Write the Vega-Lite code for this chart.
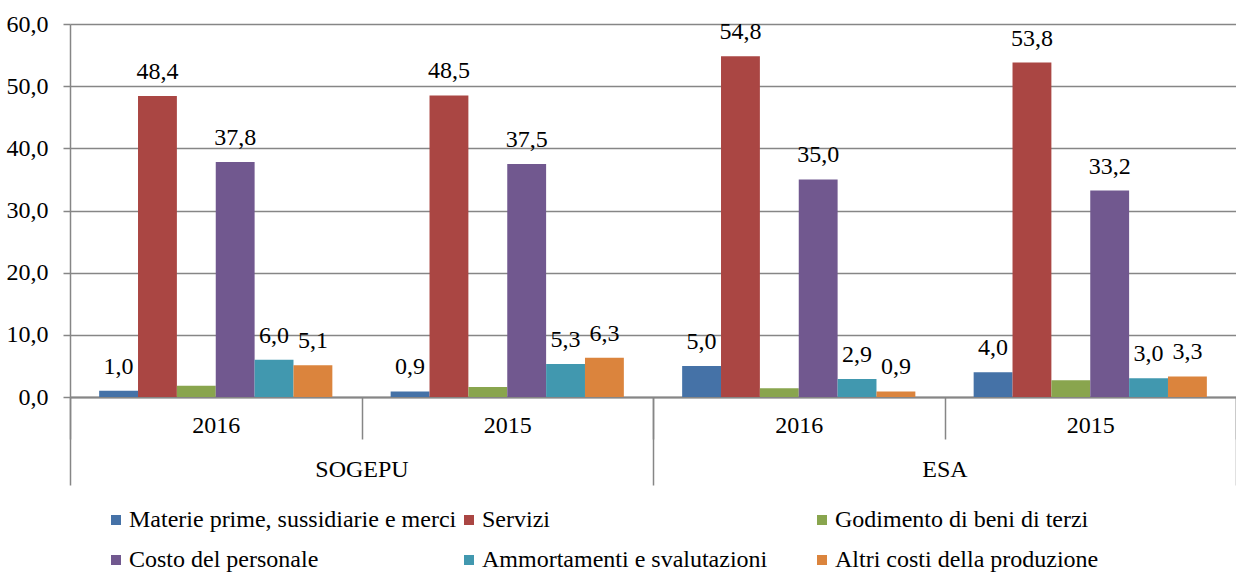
{
  "$schema": "https://vega.github.io/schema/vega-lite/v6.json",
  "width": 1166,
  "height": 373,
  "autosize": {"type": "none"},
  "padding": {"left": 70, "top": 24, "right": 0, "bottom": 175},
  "config": {
    "locale": {"number": {"decimal": ",", "thousands": ".", "grouping": [3], "currency": ["", " €"]}},
    "view": {"stroke": null},
    "font": "Liberation Serif"
  },
  "data": {
    "values": [
      {"company": "SOGEPU", "grp": "SOGEPU 2016", "serie": "Materie prime, sussidiarie e merci", "v": 1.0},
      {"company": "SOGEPU", "grp": "SOGEPU 2016", "serie": "Servizi", "v": 48.4},
      {"company": "SOGEPU", "grp": "SOGEPU 2016", "serie": "Godimento di beni di terzi", "v": 1.8},
      {"company": "SOGEPU", "grp": "SOGEPU 2016", "serie": "Costo del personale", "v": 37.8},
      {"company": "SOGEPU", "grp": "SOGEPU 2016", "serie": "Ammortamenti e svalutazioni", "v": 6.0},
      {"company": "SOGEPU", "grp": "SOGEPU 2016", "serie": "Altri costi della produzione", "v": 5.1},
      {"company": "SOGEPU", "grp": "SOGEPU 2015", "serie": "Materie prime, sussidiarie e merci", "v": 0.9},
      {"company": "SOGEPU", "grp": "SOGEPU 2015", "serie": "Servizi", "v": 48.5},
      {"company": "SOGEPU", "grp": "SOGEPU 2015", "serie": "Godimento di beni di terzi", "v": 1.6},
      {"company": "SOGEPU", "grp": "SOGEPU 2015", "serie": "Costo del personale", "v": 37.5},
      {"company": "SOGEPU", "grp": "SOGEPU 2015", "serie": "Ammortamenti e svalutazioni", "v": 5.3},
      {"company": "SOGEPU", "grp": "SOGEPU 2015", "serie": "Altri costi della produzione", "v": 6.3},
      {"company": "ESA", "grp": "ESA 2016", "serie": "Materie prime, sussidiarie e merci", "v": 5.0},
      {"company": "ESA", "grp": "ESA 2016", "serie": "Servizi", "v": 54.8},
      {"company": "ESA", "grp": "ESA 2016", "serie": "Godimento di beni di terzi", "v": 1.4},
      {"company": "ESA", "grp": "ESA 2016", "serie": "Costo del personale", "v": 35.0},
      {"company": "ESA", "grp": "ESA 2016", "serie": "Ammortamenti e svalutazioni", "v": 2.9},
      {"company": "ESA", "grp": "ESA 2016", "serie": "Altri costi della produzione", "v": 0.9},
      {"company": "ESA", "grp": "ESA 2015", "serie": "Materie prime, sussidiarie e merci", "v": 4.0},
      {"company": "ESA", "grp": "ESA 2015", "serie": "Servizi", "v": 53.8},
      {"company": "ESA", "grp": "ESA 2015", "serie": "Godimento di beni di terzi", "v": 2.7},
      {"company": "ESA", "grp": "ESA 2015", "serie": "Costo del personale", "v": 33.2},
      {"company": "ESA", "grp": "ESA 2015", "serie": "Ammortamenti e svalutazioni", "v": 3.0},
      {"company": "ESA", "grp": "ESA 2015", "serie": "Altri costi della produzione", "v": 3.3}
    ]
  },
  "layer": [
    {
      "layer": [
        {
          "mark": {"type": "bar"},
          "encoding": {
            "x": {
              "field": "grp", "type": "nominal",
              "scale": {"domain": ["SOGEPU 2016", "SOGEPU 2015", "ESA 2016", "ESA 2015"], "paddingInner": 0, "paddingOuter": 0},
              "axis": {
                "title": null, "labelExpr": "split(datum.label, ' ')[1]", "tickBand": "extent",
                "tickSize": 42, "tickColor": "#868686", "tickWidth": 1.5,
                "domainColor": "#868686", "domainWidth": 2,
                "labelFontSize": 24, "labelFont": "Liberation Serif", "labelColor": "#000",
                "labelPadding": -7, "labelBaseline": "alphabetic", "labelAngle": 0, "grid": false
              }
            },
            "xOffset": {
              "field": "serie",
              "scale": {"domain": ["Materie prime, sussidiarie e merci", "Servizi", "Godimento di beni di terzi", "Costo del personale", "Ammortamenti e svalutazioni", "Altri costi della produzione"], "paddingInner": 0, "paddingOuter": 0.75}
            },
            "y": {
              "field": "v", "type": "quantitative",
              "scale": {"domain": [0, 60]},
              "axis": {
                "title": null, "values": [0, 10, 20, 30, 40, 50, 60], "format": ".1f",
                "tickSize": 7, "labelPadding": 15, "labelFontSize": 24, "labelFont": "Liberation Serif", "labelColor": "#000",
                "gridColor": "#868686", "gridWidth": 1.5, "domainColor": "#868686", "domainWidth": 1.5,
                "tickColor": "#868686", "tickWidth": 1.5
              }
            },
            "color": {
              "field": "serie", "type": "nominal",
              "scale": {
                "domain": ["Materie prime, sussidiarie e merci", "Servizi", "Godimento di beni di terzi", "Costo del personale", "Ammortamenti e svalutazioni", "Altri costi della produzione"],
                "range": ["#4572A7", "#AA4643", "#89A54E", "#71588F", "#4198AF", "#DB843D"]
              },
              "legend": {
                "title": null, "orient": "none", "legendX": 34, "legendY": 484, "columns": 3, "direction": "horizontal",
                "gridAlign": "all", "symbolType": "square", "symbolSize": 100, "symbolStrokeWidth": 0,
                "labelFontSize": 24, "labelFont": "Liberation Serif", "labelColor": "#000", "labelOffset": 1,
                "columnPadding": -4, "rowPadding": 16, "labelLimit": 400, "padding": 0
              }
            }
          }
        },
        {
          "transform": [{"filter": "datum.serie !== 'Godimento di beni di terzi'"}],
          "mark": {"type": "text", "baseline": "alphabetic", "dy": -17, "fontSize": 24, "font": "Liberation Serif", "color": "#000"},
          "encoding": {
            "x": {"field": "grp", "type": "nominal"},
            "xOffset": {"field": "serie"},
            "y": {"field": "v", "type": "quantitative"},
            "text": {"field": "v", "type": "quantitative", "format": ".1f"}
          }
        }
      ]
    },
    {
      "mark": {"type": "rule", "opacity": 0},
      "encoding": {
        "x": {
          "field": "company", "type": "nominal",
          "scale": {"type": "band", "domain": ["SOGEPU", "ESA"], "paddingInner": 0, "paddingOuter": 0},
          "axis": {
            "orient": "bottom", "title": null, "domain": false, "grid": false, "tickBand": "extent",
            "tickSize": 88, "tickColor": "#868686", "tickWidth": 1.5,
            "labelFontSize": 24, "labelFont": "Liberation Serif", "labelColor": "#000",
            "labelPadding": -9, "labelBaseline": "alphabetic", "labelAngle": 0
          }
        }
      }
    }
  ],
  "resolve": {"scale": {"x": "independent"}, "axis": {"x": "independent"}}
}
